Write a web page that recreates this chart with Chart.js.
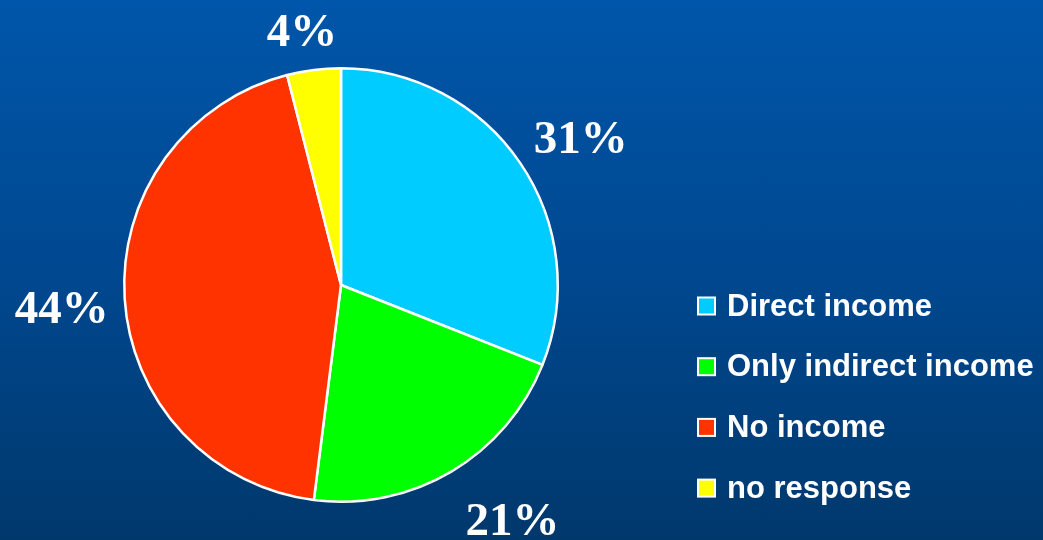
<!DOCTYPE html>
<html>
<head>
<meta charset="utf-8">
<script src="https://cdn.jsdelivr.net/npm/chart.js@4"></script>
<style>
  html, body { margin: 0; padding: 0; }
  body { width: 1043px; height: 540px; background: linear-gradient(to bottom, #0056aa 0%, #004890 50%, #00386c 100%); overflow: hidden; }
  #wrap { position: absolute; left: 0; top: 0; width: 1043px; height: 540px; }
</style>
</head>
<body>
<div id="wrap"><canvas id="c" width="1043" height="540"></canvas></div>
<script>
const categories = ["Direct income", "Only indirect income", "No income", "no response"];
const shares = [31, 21, 44, 4];
const pctLabels = ["31%", "21%", "44%", "4%"];
const sliceColors = ["#00ccff", "#00ff00", "#ff3300", "#ffff00"];

// label nudges (pixels) relative to radial placement
const labelNudge = [[5, -4], [27, 18], [4, 8], [-5, -2]];

const pctLabelPlugin = {
  id: 'pctLabels',
  afterDatasetsDraw(chart) {
    const ctx = chart.ctx;
    const meta = chart.getDatasetMeta(0);
    ctx.save();
    ctx.font = 'bold 47px "Liberation Serif", "Times New Roman", serif';
    ctx.fillStyle = '#ffffff';
    ctx.textAlign = 'center';
    ctx.textBaseline = 'middle';
    meta.data.forEach((arc, i) => {
      const p = arc.getProps(['x', 'y', 'startAngle', 'endAngle', 'outerRadius'], true);
      const mid = (p.startAngle + p.endAngle) / 2;
      const ux = Math.cos(mid), uy = Math.sin(mid);
      const d = p.outerRadius + 20;
      const txt = pctLabels[i];
      const w = ctx.measureText(txt).width;
      const h = 32;
      const cx = p.x + d * ux + (w / 2) * ux + labelNudge[i][0];
      const cy = p.y + d * uy + (h / 2) * uy + labelNudge[i][1];
      ctx.fillText(txt, cx, cy + 2);
    });
    ctx.restore();
  }
};

const legendPlugin = {
  id: 'sideLegend',
  afterDraw(chart) {
    const ctx = chart.ctx;
    const ds = chart.data.datasets[0];
    ctx.save();
    ctx.font = 'bold 31px "Liberation Sans", Arial, sans-serif';
    ctx.textAlign = 'left';
    ctx.textBaseline = 'middle';
    chart.data.labels.forEach((lab, i) => {
      const yc = 306 + i * 60.7;
      ctx.fillStyle = '#ffffff';
      ctx.fillRect(697, yc - 9.5, 19, 19);
      ctx.fillStyle = ds.backgroundColor[i];
      ctx.fillRect(699, yc - 7.5, 15, 15);
      ctx.fillStyle = '#ffffff';
      ctx.fillText(lab, 727, yc + 1);
    });
    ctx.restore();
  }
};

new Chart(document.getElementById('c'), {
  type: 'pie',
  data: {
    labels: categories,
    datasets: [{
      data: shares,
      backgroundColor: sliceColors,
      borderColor: '#ffffff',
      borderWidth: 2.5
    }]
  },
  options: {
    responsive: false,
    animation: false,
    layout: { padding: { top: 67, bottom: 37, left: 123, right: 484 } },
    plugins: {
      legend: { display: false },
      tooltip: { enabled: false }
    }
  },
  plugins: [pctLabelPlugin, legendPlugin]
});
</script>
</body>
</html>
